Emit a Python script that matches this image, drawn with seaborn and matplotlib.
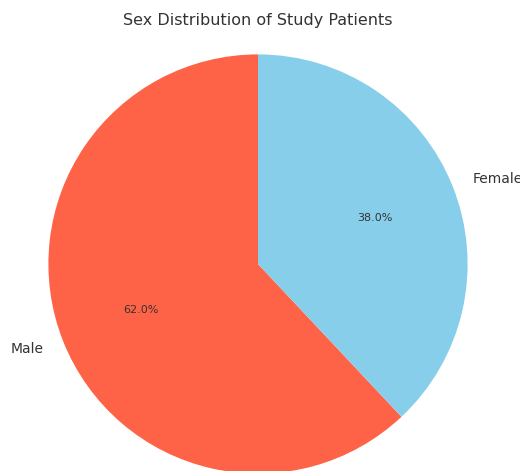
import matplotlib
matplotlib.use('Agg')
import matplotlib.pyplot as plt
import seaborn as sns

# 数据
labels = ['Male', 'Female']
shares = [62.0, 38.0]
colors = ['tomato', 'skyblue']

sns.set_style('white')
plt.rcParams['font.family'] = ['DejaVu Sans']
plt.rcParams['text.color'] = '#333333'

fig = plt.figure(figsize=(5.2, 4.71), dpi=100)
# 饼图区域略大于画布，底部与右侧被裁切
ax = fig.add_axes([-4 / 520, -55 / 471, 524 / 520, 524 / 471])

ax.pie(shares, labels=labels, colors=colors, autopct='%1.1f%%',
       startangle=90, textprops={'fontsize': 10},
       wedgeprops={'linewidth': 0})
for t in ax.texts:
    if t.get_text().endswith('%'):
        t.set_fontsize(8)
ax.set_xlim(-1.25, 1.25)
ax.set_ylim(-1.25, 1.25)
ax.set_aspect('equal')

fig.text(258 / 520, 1 - 20 / 471, 'Sex Distribution of Study Patients',
         ha='center', va='center', fontsize=11.5, color='#333333')

fig.savefig('out.png', dpi=100)
